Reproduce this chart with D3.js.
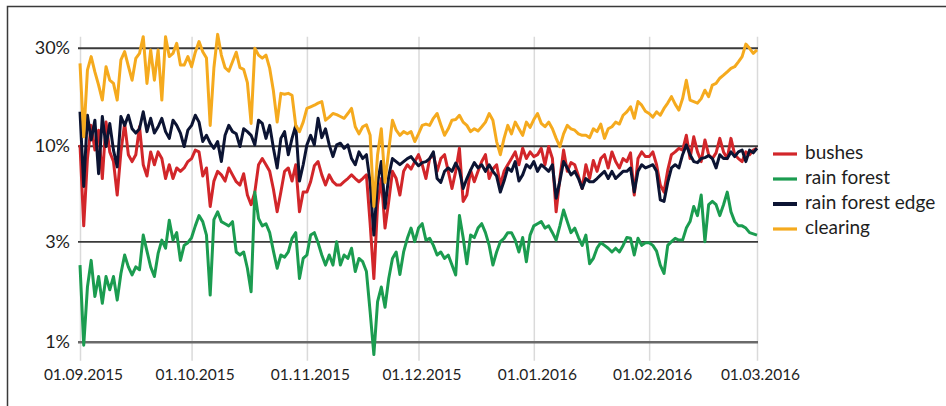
<!DOCTYPE html>
<html>
<head>
<meta charset="utf-8">
<script src="https://cdn.jsdelivr.net/npm/d3@7"></script>
<style>
  body { margin: 0; background: #fff; }
  svg { display: block; font-family: Lato, "Open Sans", sans-serif; }
</style>
</head>
<body>
<svg id="chart"></svg>
<script>
// daily share of detections, 01.09.2015 .. 01.03.2016 (one value per day)
const startDate = new Date(2015, 8, 1);
const endDate = new Date(2016, 2, 1);

const seriesNames = ["bushes", "rain forest", "rain forest edge", "clearing"];
const seriesColors = ["#d2262a", "#1b9c50", "#0c1433", "#f5aa1e"];

const bushes = [
  10.1, 3.9, 8.6, 12.7, 9.5, 12.0, 6.8, 13.2, 9.3, 8.3,
  5.6, 9.3, 13.0, 9.0, 8.3, 9.0, 12.5, 8.0, 7.0, 9.3,
  8.0, 9.3, 8.6, 6.8, 8.0, 6.8, 7.7, 7.4, 7.7, 8.3,
  8.6, 9.5, 9.3, 7.0, 7.7, 4.9, 6.6, 7.4, 7.1, 6.6,
  7.7, 7.1, 6.55, 6.3, 7.2, 5.6, 5.0, 5.8, 8.0, 8.6,
  8.0, 7.4, 6.0, 4.6, 5.8, 7.4, 7.7, 6.6, 8.0, 4.6,
  5.8, 5.8, 6.55, 7.9, 8.3, 7.1, 6.3, 7.1, 6.55, 6.3,
  6.3, 6.55, 6.8, 7.1, 6.8, 6.55, 6.8, 7.1, 4.0, 2.1,
  5.0, 6.8, 3.8, 5.2, 7.4, 6.8, 5.6, 7.4, 8.0, 7.6,
  8.3, 9.0, 8.0, 6.8, 8.6, 9.0, 7.4, 8.6, 9.0, 7.4,
  6.05, 7.4, 9.7, 5.2, 5.6, 7.5, 6.55, 7.4, 8.3, 9.0,
  6.8, 7.6, 8.0, 6.3, 7.4, 8.0, 8.6, 9.3, 8.0, 9.7,
  8.6, 9.3, 8.8, 9.0, 9.7, 8.0, 9.9, 8.6, 4.6, 6.8,
  9.5, 7.4, 8.2, 8.0, 7.0, 6.05, 8.0, 6.8, 8.4, 7.4,
  8.6, 9.0, 7.7, 9.3, 8.3, 7.7, 8.6, 8.3, 9.2, 5.6,
  8.6, 9.3, 8.8, 8.8, 9.3, 8.0, 6.3, 5.8, 7.5, 9.0,
  9.3, 9.7, 9.5, 11.3, 8.6, 11.1, 9.3, 8.3, 10.7, 9.0,
  8.6, 9.2, 10.9, 9.3, 8.6, 10.9, 9.0, 8.6, 8.3, 9.3,
  9.0, 9.5, 9.7
];

const rainForest = [
  2.46, 0.96, 1.9, 2.6, 1.7, 2.15, 1.57, 2.15, 1.84, 2.15,
  1.63, 2.23, 2.77, 2.41, 2.19, 2.41, 2.33, 3.5, 2.9, 2.41,
  2.15, 2.82, 3.3, 3.0, 4.17, 3.3, 3.6, 2.6, 3.1, 3.2,
  3.4, 3.9, 4.4, 4.1, 3.5, 1.73, 4.2, 4.6, 4.1, 4.0,
  3.9, 4.1, 2.87, 2.77, 2.87, 2.37, 1.8, 5.8, 4.25, 3.9,
  4.0, 3.6, 2.9, 2.37, 2.77, 2.7, 2.87, 3.37, 3.6, 2.1,
  2.66, 2.77, 3.5, 3.6, 3.2, 2.77, 2.46, 2.77, 2.46, 3.24,
  2.46, 2.77, 2.66, 3.0, 2.28, 2.66, 2.56, 2.28, 1.42, 0.86,
  1.6, 1.9, 1.5, 2.1, 2.66, 2.87, 2.2, 2.87, 3.37, 3.8,
  3.24, 3.8, 4.0, 3.3, 3.37, 3.1, 2.77, 2.87, 2.66, 2.77,
  2.46, 2.19, 4.4, 3.4, 2.5, 3.5, 3.4, 3.8, 4.0, 3.6,
  3.1, 2.46, 2.87, 3.24, 3.37, 3.6, 3.6, 3.3, 2.87, 3.4,
  2.56, 3.5, 3.9, 4.0, 4.1, 3.8, 3.9, 3.6, 3.3, 3.9,
  4.7, 4.1, 3.6, 3.8, 3.4, 3.1, 3.5, 2.5, 2.66, 3.0,
  3.2, 3.1, 3.0, 2.87, 3.0, 2.87, 3.1, 3.4, 3.37, 2.77,
  3.37, 3.1, 3.2, 3.2, 3.1, 2.9, 2.46, 2.23, 3.1, 3.24,
  3.37, 3.3, 3.3, 3.8, 4.1, 4.9, 4.4, 5.6, 3.24, 5.0,
  5.2, 5.0, 4.4, 5.0, 5.8, 4.6, 4.1, 3.9, 3.9, 3.8,
  3.6, 3.55, 3.5
];

const rainForestEdge = [
  14.9, 6.2, 14.3, 10.7, 13.5, 7.2, 14.1, 9.9, 13.0, 9.5,
  7.8, 14.1, 12.7, 14.3, 12.2, 11.6, 12.2, 14.9, 11.8, 13.8,
  11.6, 12.5, 13.8, 11.8, 10.9, 13.5, 12.7, 11.6, 9.9, 12.0,
  12.7, 14.3, 13.2, 10.5, 11.3, 10.3, 9.7, 10.5, 8.3, 11.3,
  12.7, 11.8, 11.5, 9.9, 12.2, 11.8, 11.3, 10.1, 13.5, 13.0,
  10.9, 12.7, 9.7, 7.7, 10.9, 11.8, 9.0, 10.9, 12.7, 6.6,
  8.0, 10.1, 11.3, 10.1, 13.8, 11.0, 12.2, 10.1, 8.8, 10.1,
  10.3, 9.7, 10.1, 8.6, 8.0, 9.3, 8.6, 9.0, 6.5, 3.5,
  6.5, 8.3, 4.8, 7.0, 8.6, 8.3, 8.0, 8.3, 8.6, 8.8,
  8.3, 7.9, 8.2, 8.3, 8.6, 9.3, 6.8, 6.5, 7.4, 7.7,
  7.4, 8.15, 7.5, 6.05, 6.8, 7.5, 8.2, 7.7, 8.0, 7.4,
  8.0, 7.4, 7.0, 5.8, 6.6, 7.7, 7.4, 8.3, 6.6, 7.1,
  8.0, 7.7, 8.3, 7.4, 8.0, 7.7, 7.4, 8.0, 5.4, 6.6,
  8.3, 7.7, 7.1, 7.4, 6.8, 6.05, 6.8, 6.55, 6.55, 6.8,
  7.1, 7.4, 6.8, 7.4, 6.8, 7.1, 7.4, 7.4, 7.7, 5.8,
  7.4, 8.0, 7.7, 7.85, 8.0, 7.4, 5.3, 5.2, 6.5, 7.7,
  8.0, 7.7, 9.0, 10.1, 9.0, 8.3, 8.2, 8.6, 8.7, 8.9,
  8.6, 7.7, 9.0, 8.6, 8.6, 9.3, 8.8, 9.3, 9.5, 8.3,
  9.5, 9.2, 9.7
];

const clearing = [
  26.3, 11.1, 24.3, 28.5, 23.8, 20.4, 17.1, 25.3, 21.6, 20.8,
  17.1, 27.4, 30.2, 25.5, 21.6, 27.9, 29.6, 36, 20.8, 30.8,
  21.6, 30.8, 17.1, 36, 28.5, 29.6, 33.3, 25.8, 25.8, 28.5,
  25.3, 30, 34, 30.2, 28, 12.7, 25, 37, 29, 25,
  24, 26.8, 30, 25, 24.5, 21, 13, 31.4, 29, 28,
  29, 24.8, 19, 13.2, 18.5, 18.3, 18.5, 18.1, 12.7, 11.8,
  13.2, 15.5, 15.8, 16.1, 16.5, 16.8, 13.5, 14, 14.6, 14.4,
  14.1, 13.8, 14.6, 15.5, 12.5, 11.5, 12.5, 12.8, 11.3, 4.9,
  9, 12.2, 6.5, 9.5, 13.5, 12, 11.3, 11.8, 11.5, 11.8,
  10.5, 11.5, 12.7, 12.9, 12.7, 13.8, 14.6, 12.8, 11.3, 12.2,
  13.5, 13.6, 14.3, 13.2, 12.7, 11.8, 12.2, 11.9, 12.5, 13.2,
  14.6, 13.5, 10.5, 9.0, 10.9, 12.7, 11.5, 13.2, 12.2, 11.3,
  13.2, 12.4, 13.6, 14.6, 13.0, 12.5, 13.2, 12.2, 10.9, 9.9,
  11.5, 12.7, 12.2, 12.0, 11.5, 11.3, 11.3, 11.0, 12.2, 11.8,
  12.9, 10.9, 12.2, 12.5, 13.2, 12.9, 14.3, 14.9, 15.8, 13.8,
  16.8, 16.1, 15.0, 14.6, 14.0, 14.9, 14.3, 15.5, 16.5, 17.8,
  16.3, 15.2, 17.4, 21.6, 17.1, 16.8, 16.5, 17.4, 19.2, 17.8,
  20.4, 20.8, 22.1, 22.9, 23.8, 24.8, 25.3, 26.8, 28.5, 33,
  31.4, 29.6, 30.8
];

const yTickValues = [1, 3.25, 10, 31.62];
const yTickLabels = ["1%", "3%", "10%", "30%"];

const width = 946, height = 406;
const plotLeft = 80, plotRight = 757;
const plotTop = 36.7, plotBottom = 360.7;

const svg = d3.select("#chart")
    .attr("width", width)
    .attr("height", height);

svg.append("rect").attr("width", width).attr("height", height).attr("fill", "#fff");

// frame (only top and left edges are inside the picture)
svg.append("path")
    .attr("d", `M7.5,${height} V6.5 H${width}`)
    .attr("fill", "none")
    .attr("stroke", "#3a3a3a")
    .attr("stroke-width", 1.5);

const dates = d3.range(bushes.length).map(i => d3.timeDay.offset(startDate, i));

const x = d3.scaleTime()
    .domain([startDate, endDate])
    .range([plotLeft, plotRight]);

const y = d3.scaleLog()
    .domain([0.8, 36])
    .range([plotBottom, plotTop]);

// vertical month grid + date labels
const monthTicks = d3.timeMonth.range(startDate, d3.timeDay.offset(endDate, 1));
const xAxis = svg.append("g")
    .attr("transform", `translate(0,${plotBottom})`)
    .call(d3.axisBottom(x)
        .tickValues(monthTicks)
        .tickFormat(d3.timeFormat("%d.%m.%Y"))
        .tickSize(-(plotBottom - plotTop))
        .tickPadding(8));
xAxis.select(".domain").remove();
xAxis.selectAll(".tick line")
    .attr("stroke", "#dadada")
    .attr("stroke-width", 1.5);
xAxis.selectAll(".tick text")
    .attr("x", 3)
    .attr("fill", "#1e1e1e")
    .style("font-size", "15.5px")
    .style("font-family", "Lato, sans-serif");

// horizontal grid + percentage labels
const yAxis = svg.append("g")
    .attr("transform", `translate(${plotLeft - 2},0)`)
    .call(d3.axisLeft(y)
        .tickValues(yTickValues)
        .tickFormat((d, i) => yTickLabels[i])
        .tickSize(-(plotRight - plotLeft + 3))
        .tickPadding(8));
yAxis.select(".domain").remove();
yAxis.selectAll(".tick line")
    .attr("stroke", (d, i) => i === 0 ? "#6a6a6a" : "#3a3a3a")
    .attr("stroke-width", (d, i) => i === 0 ? 2.4 : 1.8);
yAxis.selectAll(".tick text")
    .attr("fill", "#1e1e1e")
    .style("font-size", "18px")
    .style("font-family", "Lato, sans-serif");

const allSeries = [bushes, rainForest, rainForestEdge, clearing];

const line = d3.line()
    .x((d, i) => x(dates[i]))
    .y(d => y(d));

svg.append("g")
    .selectAll("path")
    .data(allSeries)
    .join("path")
    .attr("d", line)
    .attr("fill", "none")
    .attr("stroke", (d, i) => seriesColors[i])
    .attr("stroke-width", 3)
    .attr("stroke-linejoin", "round");

// legend
const legend = svg.append("g")
    .selectAll("g")
    .data(seriesNames)
    .join("g")
    .attr("transform", (d, i) => `translate(773,${159 + i * 25})`);

legend.append("line")
    .attr("x1", 0).attr("x2", 24)
    .attr("y1", -5).attr("y2", -5)
    .attr("stroke", (d, i) => seriesColors[i])
    .attr("stroke-width", (d, i) => i === 2 ? 4 : 3.2);

legend.append("text")
    .attr("x", 32)
    .attr("fill", "#1e1e1e")
    .style("font-size", "19px")
    .text(d => d);
</script>
</body>
</html>
